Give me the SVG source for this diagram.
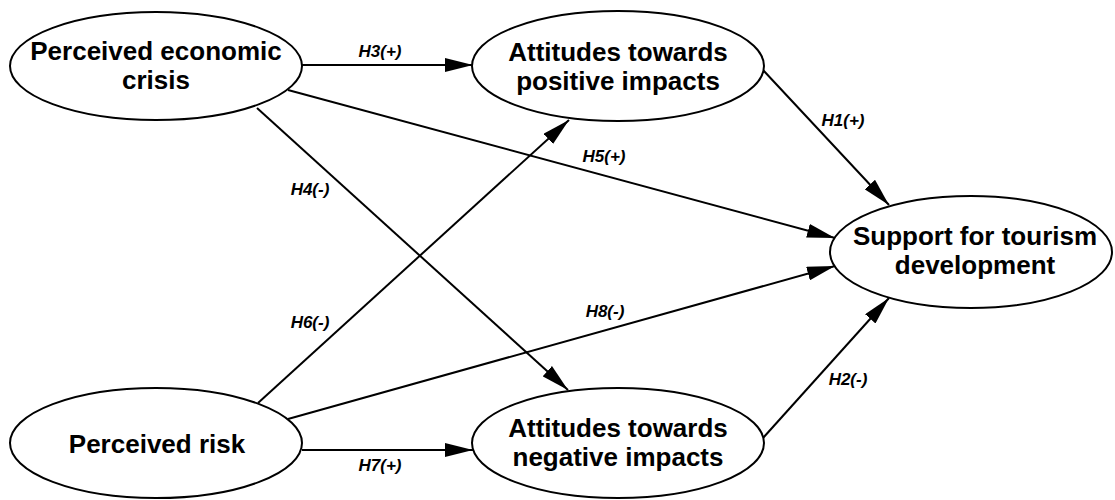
<svg xmlns="http://www.w3.org/2000/svg" width="1115" height="500" viewBox="0 0 1115 500">
<style>
.node ellipse{fill:#fff;stroke:#000;stroke-width:2}
.nt{font-family:"Liberation Sans",Arial,sans-serif;font-weight:bold;font-size:26px;fill:#000;text-anchor:middle}
.edge{stroke:#000;stroke-width:2;fill:none;marker-end:url(#ah)}
.lbl{font-family:"Liberation Sans",Arial,sans-serif;font-weight:bold;font-style:italic;font-size:17px;fill:#000;text-anchor:middle}
</style>
<defs>
<marker id="ah" markerUnits="userSpaceOnUse" markerWidth="28" markerHeight="14" refX="28" refY="7" orient="auto">
<path d="M0,0 L28,7 L0,14 z" fill="#000"/>
</marker>
</defs>
<rect width="1115" height="500" fill="#fff"/>
<g id="connectors">
<line class="edge" x1="302" y1="65" x2="473" y2="65"/>
<line class="edge" x1="763" y1="70" x2="889" y2="205"/>
<line class="edge" x1="763" y1="438" x2="889" y2="298"/>
<line class="edge" x1="288" y1="90" x2="835" y2="238"/>
<line class="edge" x1="257" y1="108" x2="568" y2="390"/>
<line class="edge" x1="258" y1="403" x2="569" y2="120"/>
<line class="edge" x1="288" y1="419" x2="835" y2="266"/>
<line class="edge" x1="302" y1="450" x2="473" y2="450"/>
<text class="lbl" x="380" y="57">H3(+)</text>
<text class="lbl" x="843" y="126">H1(+)</text>
<text class="lbl" x="848" y="385">H2(-)</text>
<text class="lbl" x="604" y="162">H5(+)</text>
<text class="lbl" x="310" y="195">H4(-)</text>
<text class="lbl" x="310" y="328">H6(-)</text>
<text class="lbl" x="605" y="317">H8(-)</text>
<text class="lbl" x="380" y="471">H7(+)</text>
</g>
<g id="n-crisis" class="node">
<ellipse cx="156" cy="66" rx="146" ry="54"/>
<text class="nt" x="156" y="60">Perceived economic</text>
<text class="nt" x="156" y="89">crisis</text>
</g>
<g id="n-positive" class="node">
<ellipse cx="618" cy="66" rx="146" ry="55"/>
<text class="nt" x="618" y="61">Attitudes towards</text>
<text class="nt" x="618" y="90">positive impacts</text>
</g>
<g id="n-support" class="node">
<ellipse cx="971" cy="252" rx="141" ry="56"/>
<text class="nt" x="975" y="245">Support for tourism</text>
<text class="nt" x="975" y="274">development</text>
</g>
<g id="n-risk" class="node">
<ellipse cx="156" cy="443" rx="146" ry="55"/>
<text class="nt" x="157" y="453">Perceived risk</text>
</g>
<g id="n-negative" class="node">
<ellipse cx="618" cy="443" rx="146" ry="55"/>
<text class="nt" x="618" y="437">Attitudes towards</text>
<text class="nt" x="618" y="466">negative impacts</text>
</g>
</svg>
